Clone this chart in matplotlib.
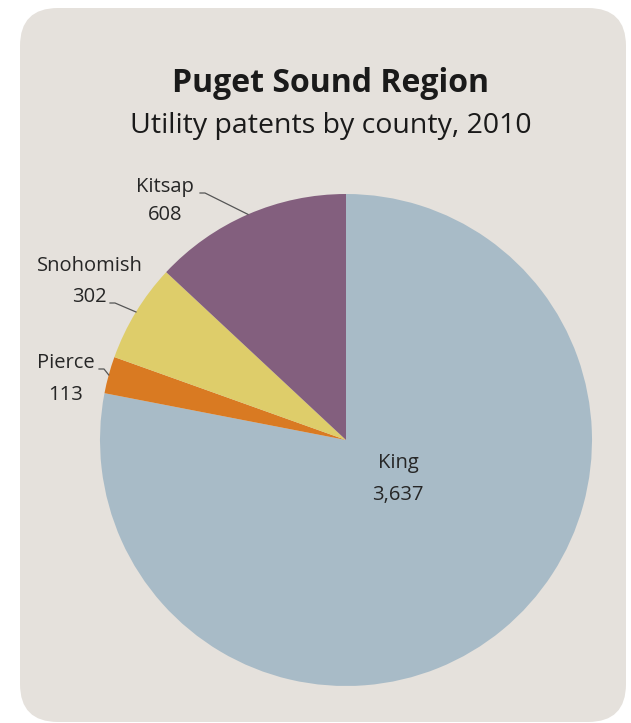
import numpy as np
import matplotlib.pyplot as plt
from matplotlib.patches import FancyBboxPatch

# data
counties = ["King", "Pierce", "Snohomish", "Kitsap"]
patents = [3637, 113, 302, 608]
colors = ["#A8BBC7", "#D97A22", "#DECD6A", "#835F7E"]
value_labels = ["3,637", "113", "302", "608"]

W, H = 631, 723
plt.rcParams['font.family'] = ['Open Sans', 'DejaVu Sans']

fig = plt.figure(figsize=(W / 100, H / 100), dpi=100)
fig.patch.set_facecolor("white")
ax = fig.add_axes([0, 0, 1, 1])
ax.set_xlim(0, W)
ax.set_ylim(0, H)
ax.set_aspect("equal")
ax.axis("off")

# rounded panel
panel = FancyBboxPatch((20, 1), 606, 714, boxstyle="round,pad=0,rounding_size=38",
                       facecolor="#E5E1DC", edgecolor="none", zorder=0)
ax.add_patch(panel)

cx, cy, r = 346, H - 440, 246
wedges, _ = ax.pie(patents, colors=colors, startangle=90, counterclock=False,
                   center=(cx, cy), radius=r, frame=True,
                   wedgeprops=dict(linewidth=0))
ax.set_xlim(0, W)
ax.set_ylim(0, H)
ax.axis("off")

# title
fig.text(330 / W, 1 - 84 / H, "Puget Sound Region", ha="center", va="center",
         fontsize=23, fontweight="bold", color="#1a1a1a")
fig.text(331 / W, 1 - 126 / H, "Utility patents by county, 2010", ha="center", va="center",
         fontsize=20.5, color="#1a1a1a")

# King inside label
lab = dict(ha="center", va="center", fontsize=14.5, color="#262626")
ax.text(398, H - 463, "King", **lab)
ax.text(398, H - 495, value_labels[0], **lab)

# outside labels: (name xy, value xy, leader start)
outside = {
    1: ((66, H - 363), (66, H - 395), (99, H - 369)),
    2: ((90, H - 266), (89, H - 297), (110, H - 303)),
    3: ((165, H - 187), (165, H - 215), (200, H - 193)),
}
for i, (name_xy, val_xy, start) in outside.items():
    w = wedges[i]
    mid = np.deg2rad((w.theta1 + w.theta2) / 2)
    ex, ey = cx + r * np.cos(mid), cy + r * np.sin(mid)
    ax.text(*name_xy, counties[i], **lab)
    ax.text(*val_xy, value_labels[i], **lab)
    ax.plot([start[0], start[0] + 5, ex], [start[1], start[1], ey],
            color="#555555", lw=0.9, zorder=3)

fig.savefig("out.png", dpi=100, facecolor="white")
